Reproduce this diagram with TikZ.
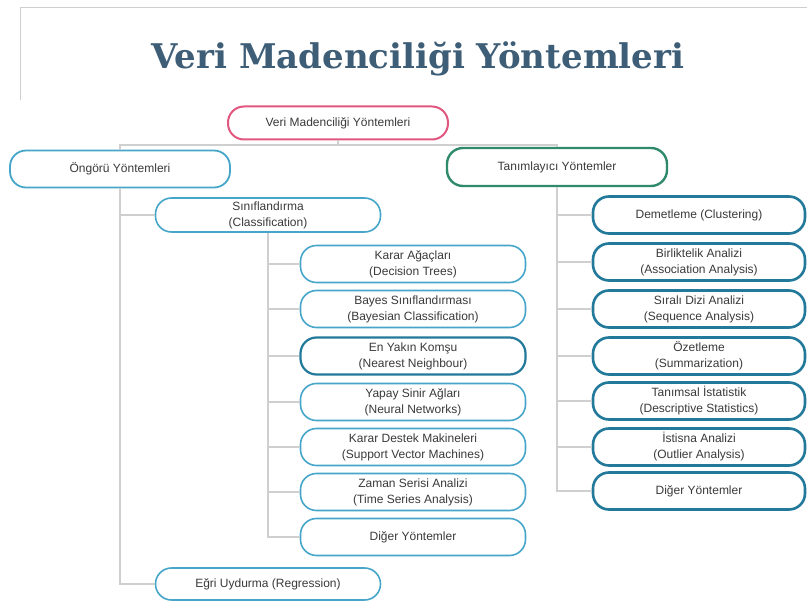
\documentclass[tikz,border=0pt]{standalone}
\usepackage{fontspec}
\setmainfont{Liberation Sans}
\newfontfamily\titlefont{DejaVu Serif}
\definecolor{titleblue}{HTML}{3E5E77}
\definecolor{rootpink}{HTML}{E2577F}
\definecolor{descgreen}{HTML}{2F8A6C}
\definecolor{lightteal}{HTML}{45A6CA}
\definecolor{darkteal}{HTML}{22799A}
\definecolor{linegrey}{HTML}{CFCFCF}
\definecolor{txtgrey}{HTML}{3A3A3A}
\tikzset{
  pill/.style={draw, fill=white, rounded corners=16pt, align=center,
    inner sep=0pt, text=txtgrey, font=\fontsize{12}{16}\selectfont},
  leftbox/.style={pill, draw=lightteal, line width=1.6pt,
    minimum width=225pt, minimum height=37pt},
  rightbox/.style={pill, draw=darkteal, line width=2.6pt,
    minimum width=212pt, minimum height=37pt},
  conn/.style={draw=linegrey, line width=1.4pt},
}
\begin{document}
\begin{tikzpicture}[x=1pt,y=-1pt]
\useasboundingbox (0,0) rectangle (807,604);
\fill[white] (0,0) rectangle (807,604);
% frame lines at the top left
\draw[linegrey, line width=0.8pt] (20,100) -- (20,7) -- (807,7);

% heading
\node[font=\titlefont\bfseries\fontsize{34}{40}\selectfont, text=titleblue] (title) at (418,59) {Veri Madenciliği Yöntemleri};

% top level
\node[pill, draw=rootpink, line width=2pt, minimum width=220pt, minimum height=33pt] (root) at (338,123) {Veri Madenciliği Yöntemleri};
\node[pill, draw=lightteal, line width=1.8pt, minimum width=220pt, minimum height=37pt] (ongoru) at (120,169) {Öngörü Yöntemleri};
\node[pill, draw=descgreen, line width=2.4pt, minimum width=220pt, minimum height=38pt] (tanim) at (557,167) {Tanımlayıcı Yöntemler};
\coordinate (bus) at (338,145);

% predictive branch
\node[leftbox, minimum height=34pt] (sinif) at (268,215) {Sınıflandırma\\(Classification)};
\node[leftbox, minimum height=32pt] (egri) at (268,584) {Eğri Uydurma (Regression)};
\node[leftbox] (karar) at (413,264) {Karar Ağaçları\\(Decision Trees)};
\node[leftbox] (bayes) at (413,309) {Bayes Sınıflandırması\\(Bayesian Classification)};
\node[leftbox, draw=darkteal, line width=2.2pt] (komsu) at (413,356) {En Yakın Komşu\\(Nearest Neighbour)};
\node[leftbox] (yapay) at (413,402) {Yapay Sinir Ağları\\(Neural Networks)};
\node[leftbox] (svm) at (413,447) {Karar Destek Makineleri\\(Support Vector Machines)};
\node[leftbox] (zaman) at (413,492) {Zaman Serisi Analizi\\(Time Series Analysis)};
\node[leftbox] (digerA) at (413,537) {Diğer Yöntemler};

% descriptive branch
\node[rightbox] (demet) at (699,215) {Demetleme (Clustering)};
\node[rightbox] (birlik) at (699,262) {Birliktelik Analizi\\(Association Analysis)};
\node[rightbox] (sirali) at (699,309) {Sıralı Dizi Analizi\\(Sequence Analysis)};
\node[rightbox] (ozet) at (699,356) {Özetleme\\(Summarization)};
\node[rightbox] (tanimsal) at (699,401) {Tanımsal İstatistik\\(Descriptive Statistics)};
\node[rightbox] (istisna) at (699,447) {İstisna Analizi\\(Outlier Analysis)};
\node[rightbox] (digerB) at (699,491) {Diğer Yöntemler};

% tree connectors
\path[conn] (root.south) -- (bus);
\path[conn] (ongoru.north) |- (bus) -| (tanim.north);
\path[conn] (ongoru.south) |- (egri.west);
\path[conn] (ongoru.south |- sinif.west) -- (sinif.west);
\path[conn] (sinif.south) |- (digerA.west);
\foreach \n in {karar,bayes,komsu,yapay,svm,zaman}
  \path[conn] (sinif.south |- \n.west) -- (\n.west);
\path[conn] (tanim.south) |- (digerB.west);
\foreach \n in {demet,birlik,sirali,ozet,tanimsal,istisna}
  \path[conn] (tanim.south |- \n.west) -- (\n.west);
\end{tikzpicture}
\end{document}
